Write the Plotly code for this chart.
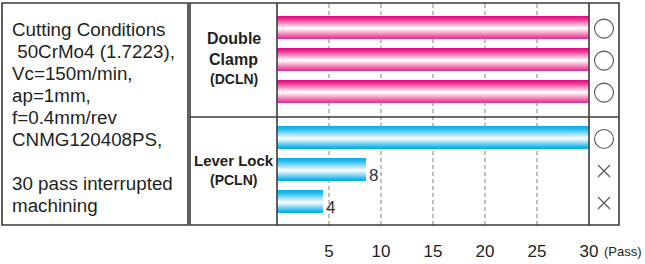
import plotly.graph_objects as go

# ---------------- data ----------------
group_names = [["Double", "Clamp"], ["Lever Lock"]]
group_codes = ["(DCLN)", "(PCLN)"]
passes = [[30, 30, 30], [30, 8.6, 4.4]]
pass_labels = [["", "", ""], ["", "8", "4"]]
results = [["○", "○", "○"], ["○", "×", "×"]]
x_ticks = [5, 10, 15, 20, 25, 30]
x_tick_text = ["5", "10", "15", "20", "25", "30"]
x_unit = "(Pass)"
conditions = ["Cutting Conditions", " 50CrMo4 (1.7223),", "Vc=150m/min,", "ap=1mm,",
              "f=0.4mm/rev", "CNMG120408PS,", "", "30 pass interrupted", "machining"]

# ---------------- styling / layout helpers ----------------
W, H = 645, 264
FONT = "Liberation Sans, Arial, sans-serif"
TXT = "#231f20"
LINE = "#3a3a3a"
NAME_SIZES = [16, 15]

def px(x):
    return x / W

def py(y):
    return 1 - y / H

TOP, BOT = 3, 225
X0, X1 = 277, 589          # data area
MX1 = 619                  # marker column right
MID = 117                  # group divider
PITCH = 32.0               # px per row unit
Y_RANGE = (BOT - TOP) / PITCH
FIRST = 0.75
GAP = 0.45
BAR_W = 22 / PITCH

gradients = [
    [(0, "#E4007F"), (0.15, "#EA3391"), (0.35, "#F598C8"), (0.56, "#FFFFFF"),
     (0.76, "#F5A3CC"), (1, "#E6348F")],
    [(0, "#00AEEB"), (0.15, "#2CBCEF"), (0.35, "#93DBF6"), (0.56, "#FFFFFF"),
     (0.76, "#8ED9F5"), (1, "#00AFEA")],
]

def hex2rgb(h):
    h = h.lstrip("#")
    return tuple(int(h[i:i + 2], 16) for i in (0, 2, 4))

def grad_color(stops, t):
    for (t0, c0), (t1, c1) in zip(stops[:-1], stops[1:]):
        if t0 <= t <= t1:
            f = (t - t0) / (t1 - t0) if t1 > t0 else 0
            a, b = hex2rgb(c0), hex2rgb(c1)
            r = [round(a[k] + (b[k] - a[k]) * f) for k in range(3)]
            return "rgb(%d,%d,%d)" % tuple(r)
    return stops[-1][1]

positions = []
for g, vals in enumerate(passes):
    positions.append([FIRST + g * (len(passes[0]) + GAP) + i for i in range(len(vals))])

fig = go.Figure()

# gradient bars drawn as thin horizontal strips
NSTRIP = 22
strip_h = BAR_W / NSTRIP
for g, vals in enumerate(passes):
    for s in range(NSTRIP):
        t = (s + 0.5) / NSTRIP
        fig.add_trace(go.Bar(
            x=vals, y=positions[g], orientation="h",
            width=strip_h * 1.15, offset=-BAR_W / 2 + s * strip_h,
            marker=dict(color=grad_color(gradients[g], t), line=dict(width=0)),
            showlegend=False, hoverinfo="skip",
        ))

# result markers
for g, res in enumerate(results):
    for sym_char, sym, size in [("○", "circle-open", 19), ("×", "x-thin-open", 12)]:
        ys = [positions[g][i] + 0.05 for i, r in enumerate(res) if r == sym_char]
        if ys:
            fig.add_trace(go.Scatter(
                x=[0.5] * len(ys), y=ys, xaxis="x2", yaxis="y", mode="markers",
                marker=dict(symbol=sym, size=size, color="#555555",
                            line=dict(color="#555555", width=1.1)),
                showlegend=False, hoverinfo="skip",
            ))

annotations = []
# value labels
for g, labs in enumerate(pass_labels):
    for i, lab in enumerate(labs):
        if lab:
            annotations.append(dict(
                x=passes[g][i], y=positions[g][i] + 0.18, xref="x", yref="y",
                text=lab, showarrow=False, xanchor="left", yanchor="middle", xshift=1,
                font=dict(family=FONT, size=17, color="#333333")))

# group labels
sections = [(TOP, MID), (MID, BOT)]
for g in range(len(group_names)):
    lines = group_names[g] + [group_codes[g]]
    n = len(lines)
    c = (sections[g][0] + sections[g][1]) / 2 - 1
    for i, ln in enumerate(lines):
        yc = c + (i - (n - 1) / 2) * 20
        annotations.append(dict(
            x=px((190 + X0) / 2), y=py(yc), xref="paper", yref="paper", text="<b>%s</b>" % ln,
            showarrow=False, xanchor="center", yanchor="middle",
            font=dict(family=FONT, size=NAME_SIZES[g] if i < n - 1 else 14, color=TXT)))

# conditions text
for i, ln in enumerate(conditions):
    if ln:
        annotations.append(dict(
            x=px(10), y=py(29.5 + 22 * i), xref="paper", yref="paper", text=ln,
            showarrow=False, xanchor="left", yanchor="middle",
            font=dict(family=FONT, size=18.8, color=TXT)))

# unit label
annotations.append(dict(
    x=px(623), y=py(251), xref="paper", yref="paper", text=x_unit, showarrow=False,
    xanchor="center", yanchor="middle", font=dict(family=FONT, size=13, color=TXT)))

shapes = []
# dashed gridlines at the tick values (below the bars)
for v in x_ticks[:-1]:
    shapes.append(dict(type="line", xref="x", yref="paper", x0=v, x1=v,
                       y0=py(BOT), y1=py(TOP), layer="below",
                       line=dict(color="#8c8c8c", width=1.1, dash="4px,3px")))

def rect(x0, y0, x1, y1):
    shapes.append(dict(type="rect", xref="paper", yref="paper", x0=px(x0), x1=px(x1),
                       y0=py(y0), y1=py(y1), line=dict(color=LINE, width=1.6), layer="above"))
def line(x0, y0, x1, y1):
    shapes.append(dict(type="line", xref="paper", yref="paper", x0=px(x0), x1=px(x1),
                       y0=py(y0), y1=py(y1), line=dict(color=LINE, width=1.6), layer="above"))

rect(2, TOP, 188, BOT)
rect(190, TOP, MX1, BOT)
line(X0, TOP, X0, BOT)
line(X1, TOP, X1, BOT)
line(190, MID, MX1, MID)

fig.update_layout(
    width=W, height=H, autosize=False, margin=dict(l=0, r=0, t=0, b=0, pad=0, autoexpand=False),
    paper_bgcolor="white", plot_bgcolor="rgba(0,0,0,0)",
    barmode="overlay", bargap=0, showlegend=False,
    xaxis=dict(domain=[px(X0), px(X1)], range=[0, 30], tickvals=x_ticks, ticktext=x_tick_text,
               showgrid=False, zeroline=False, showline=False, ticks="",
               ticklabelstandoff=14, automargin=False,
               tickfont=dict(family=FONT, size=17, color=TXT), fixedrange=True),
    xaxis2=dict(domain=[px(X1), px(MX1)], range=[0, 1], anchor="y", visible=False,
                automargin=False),
    yaxis=dict(domain=[py(BOT), py(TOP)], range=[Y_RANGE, 0], visible=False,
               showgrid=False, zeroline=False, automargin=False),
    annotations=annotations, shapes=shapes,
)

fig.write_html(
    "out.html",
    config={"displayModeBar": False, "responsive": False},
    post_script="document.body.style.margin='0';document.body.style.padding='0';"
                "document.body.style.overflow='hidden';",
)
